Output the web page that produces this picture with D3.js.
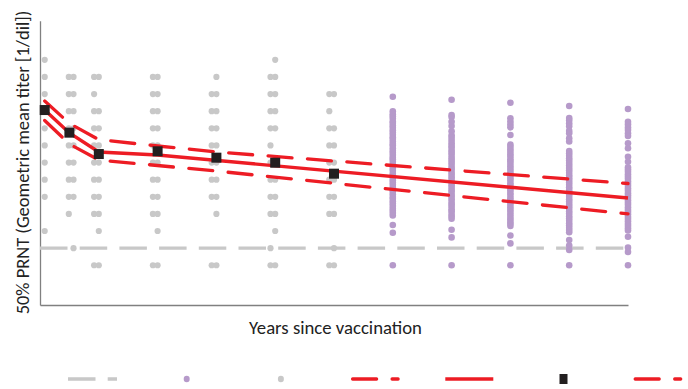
<!DOCTYPE html>
<html><head><meta charset="utf-8">
<script src="https://cdn.jsdelivr.net/npm/d3@7"></script>
<style>body{margin:0;background:#fff}svg{display:block}</style>
</head><body>
<svg id="chart" width="688" height="389"></svg>
<script>
// ---------------- DATA ----------------
// Grey cohort (years 0-5): individual titers (1/dil) at two close sampling times per visit
const greyYearsA = [0.08, 0.49, 0.92, 1.92, 2.92, 3.92, 4.92];
const greyYearsB = [null, 0.57, 1.0, 2.0, 3.0, 4.0, 5.0];
const greyTitersA = [
  [20480,10240,5120,2560,1280,640,320,160,80,20],
  [10240,5120,2560,1280,640,320,160,80,40],
  [10240,5120,2560,1280,640,320,160,80,40,5],
  [10240,5120,2560,1280,640,320,160,80,40,5],
  [5120,2560,1280,640,320,160,80,5],
  [10240,5120,2560,1280,640,320,160,80,40,10,5],
  [5120,2560,1280,640,320,160,80,40,5]
];
const greyTitersB = [
  [],
  [10240,5120,2560,1280,640,320,160,80,10],
  [10240,2560,1280,640,320,160,80,40,20,5],
  [10240,5120,2560,1280,640,320,160,80,40,20,5],
  [10240,5120,2560,1280,640,320,160,80,40,5],
  [20480,10240,5120,2560,1280,320,160,80,40,20,5],
  [5120,1280,640,320,160,80,40,10,5]
];
// Purple cohort (years 6-10): individual titers, given as log2(titer)
const purpleYears = [6, 7, 8, 9, 10];
const purpleLog2 = [
  [12.17,11.32,11.15,11.03,10.90,10.72,10.63,10.49,10.36,10.21,10.08,9.95,9.80,9.70,9.55,9.40,9.32,9.16,9.01,8.90,8.76,8.61,8.52,8.37,8.21,8.11,7.97,7.84,7.67,7.57,7.42,7.29,7.15,7.02,6.87,6.72,6.61,6.47,6.31,6.21,6.06,5.93,5.79,5.63,5.51,5.37,5.23,4.67,4.22,2.32],
  [11.99,11.10,10.98,10.71,10.46,10.15,9.92,9.77,9.61,9.45,9.30,9.18,9.03,8.90,8.76,8.60,8.47,8.33,8.18,8.02,7.90,7.74,7.61,7.46,7.31,7.19,7.03,6.90,6.74,6.61,6.46,6.32,6.18,6.02,5.89,5.75,5.60,5.47,5.31,5.18,5.04,4.40,3.95,2.32],
  [11.82,10.91,10.72,10.55,10.38,9.93,9.38,9.24,9.10,8.95,8.81,8.68,8.52,8.40,8.25,8.10,7.96,7.83,7.68,7.55,7.40,7.27,7.11,6.98,6.83,6.70,6.55,6.42,6.27,6.14,5.99,5.85,5.71,5.56,5.43,5.29,5.14,5.01,4.86,4.74,4.62,4.06,3.60,2.32],
  [11.63,10.92,10.80,10.62,10.45,10.17,10.03,9.74,9.55,9.00,8.86,8.72,8.57,8.44,8.29,8.15,8.00,7.87,7.72,7.58,7.44,7.31,7.16,7.02,6.88,6.74,6.60,6.46,6.32,6.18,6.04,5.90,5.76,5.62,5.48,5.34,5.19,5.06,4.92,4.78,4.64,4.51,4.38,4.25,3.80,3.48,3.22,2.32],
  [11.45,10.71,10.55,10.37,10.22,10.03,9.87,9.45,9.16,8.66,8.37,8.05,7.92,7.78,7.64,7.50,7.37,7.22,7.08,6.95,6.81,6.67,6.53,6.40,6.26,6.12,5.98,5.85,5.71,5.57,5.44,5.30,5.16,5.03,4.89,4.75,4.62,4.48,4.35,3.99,3.35,3.10,2.32]
];
// Geometric mean titers (black squares)
const gmtYears = [0.08, 0.5, 1, 2, 3, 4, 5];
const gmtValues = [2684, 1074, 452, 505, 390, 318, 204];
// Model fit (solid red) and 95% CI (dashed red)
const fitYears = [0.08, 0.5, 1, 2, 10];
const fitValues = [2690, 1060, 490, 434, 76];
const upperYears = [0.08, 0.5, 1, 2, 3, 10];
const upperValues = [3870, 1560, 810, 626, 491, 137];
const lowerYears = [0.08, 0.5, 1, 3, 10];
const lowerValues = [1760, 678, 355, 227, 40];
// Positivity threshold
const thresholdTiter = 10;
const thresholdYears = [0, 10];
// Axis titles
const yTitle = "50% PRNT (Geometric mean titer [1/dil])";
const xTitle = "Years since vaccination";
// Legend entries (symbols only)
const legendItems = ["threshold", "purple", "grey", "upper", "fit", "gmt", "lower"];

// ---------------- CHART ----------------
const svg = d3.select("#chart");
const RED = "#ED1C24", GREY = "#C8C8C8", PURPLE = "#B69ACA", BLACK = "#231F20";
const x = d3.scaleLinear().domain([0, 10]).range([40, 628]);
const y = d3.scaleLog().base(2).domain([1, 100000]).range([305, 20.7]);

// axes (no ticks)
svg.append("g").attr("transform", "translate(40,0)")
  .call(d3.axisLeft(y).tickValues([]).tickSizeOuter(0))
  .call(g => g.select(".domain").attr("stroke", "#808080").attr("stroke-width", 1.3));
svg.append("g").attr("transform", "translate(0,305)")
  .call(d3.axisBottom(x).tickValues([]).tickSizeOuter(0))
  .call(g => g.select(".domain").attr("stroke", "#808080").attr("stroke-width", 1.3));

const plot = svg.append("g");
// threshold dashed
plot.append("path")
  .datum(thresholdYears.map(t => [t, thresholdTiter]))
  .attr("d", d3.line().x(d => x(d[0])).y(d => y(d[1])))
  .attr("fill", "none").attr("stroke", GREY).attr("stroke-width", 3.3)
  .attr("stroke-dasharray", "27.5 12.2");

// grey points
const greyPts = [];
greyYearsA.forEach((t, i) => greyTitersA[i].forEach(v => greyPts.push([t, v])));
greyYearsB.forEach((t, i) => { if (t !== null) greyTitersB[i].forEach(v => greyPts.push([t, v])); });
plot.selectAll("circle.grey").data(greyPts).join("circle").attr("class", "grey")
  .attr("cx", d => x(d[0])).attr("cy", d => y(d[1])).attr("r", 3.1).attr("fill", GREY);

// purple points
const purplePts = [];
purpleYears.forEach((t, i) => purpleLog2[i].forEach(v => purplePts.push([t, Math.pow(2, v)])));
plot.selectAll("circle.purple").data(purplePts).join("circle").attr("class", "purple")
  .attr("cx", d => x(d[0])).attr("cy", d => y(d[1])).attr("r", 3.3).attr("fill", PURPLE);

// red lines
const line = d3.line().x(d => x(d[0])).y(d => y(d[1]));
const zip = (a, b) => a.map((t, i) => [t, b[i]]);
[[upperYears, upperValues], [lowerYears, lowerValues]].forEach(([ys, vs]) => {
  plot.append("path").datum(zip(ys, vs)).attr("d", line)
    .attr("fill", "none").attr("stroke", RED).attr("stroke-width", 3.3)
    .attr("stroke-linecap", "round").attr("stroke-dasharray", "24 15.5");
});
plot.append("path").datum(zip(fitYears, fitValues)).attr("d", line)
  .attr("fill", "none").attr("stroke", RED).attr("stroke-width", 3.4);

// GMT squares
plot.selectAll("rect.gmt").data(zip(gmtYears, gmtValues)).join("rect").attr("class", "gmt")
  .attr("x", d => x(d[0]) - 5).attr("y", d => y(d[1]) - 5).attr("width", 10).attr("height", 10)
  .attr("fill", BLACK);

// titles
function fitText(sel, target) {
  sel.attr("font-size", 16);
  const w = sel.node().getComputedTextLength();
  sel.attr("font-size", 16 * target / w);
}
const FONT = "Carlito, Lato, 'Open Sans', sans-serif";
const yt = svg.append("text").attr("transform", "translate(28.5,162.5) rotate(-90)")
  .attr("text-anchor", "middle").attr("font-family", FONT).attr("fill", "#222").text(yTitle);
fitText(yt, 304);
const xt = svg.append("text").attr("x", 335.5).attr("y", 334)
  .attr("text-anchor", "middle").attr("font-family", FONT).attr("fill", "#222").text(xTitle);
fitText(xt, 173);

// legend
const lx = d3.scalePoint().domain(legendItems).range([92.5, 657.7]);
const LY = 379;
const lg = svg.append("g");
legendItems.forEach(k => {
  const c = lx(k);
  if (k === "threshold") {
    lg.append("line").attr("x1", c - 24.5).attr("x2", c + 24.5).attr("y1", LY).attr("y2", LY)
      .attr("stroke", GREY).attr("stroke-width", 3.3).attr("stroke-dasharray", "27.5 12.2");
  } else if (k === "purple" || k === "grey") {
    lg.append("ellipse").attr("cx", c).attr("cy", LY).attr("rx", 3).attr("ry", 3.3)
      .attr("fill", k === "purple" ? PURPLE : GREY);
  } else if (k === "upper" || k === "lower") {
    lg.append("line").attr("x1", c - 22.5).attr("x2", c + 23).attr("y1", LY).attr("y2", LY)
      .attr("stroke", RED).attr("stroke-width", 3.3).attr("stroke-linecap", "round")
      .attr("stroke-dasharray", "24 15.5");
  } else if (k === "fit") {
    lg.append("line").attr("x1", c - 24).attr("x2", c + 24).attr("y1", LY).attr("y2", LY)
      .attr("stroke", RED).attr("stroke-width", 3.4);
  } else if (k === "gmt") {
    lg.append("rect").attr("x", c - 4).attr("y", LY - 5).attr("width", 8).attr("height", 10)
      .attr("fill", BLACK);
  }
});
</script>
</body></html>
